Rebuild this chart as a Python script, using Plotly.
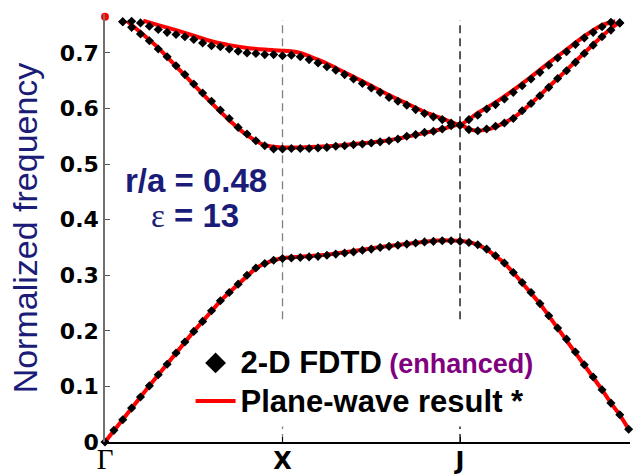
import plotly.graph_objects as go

# ---- data ----
k_tick_vals = [0, 20, 40]
k_tick_text = ['<span style="font-family:Liberation Serif;font-weight:normal;font-size:29px">Γ</span>',
               '<b>X</b>', '<b>J</b>']
k_end = 59

y_tick_vals = [0, 0.1, 0.2, 0.3, 0.4, 0.5, 0.6, 0.7]
y_tick_text = ["<b>0</b>", "<b>0.1</b>", "<b>0.2</b>", "<b>0.3</b>", "<b>0.4</b>",
               "<b>0.5</b>", "<b>0.6</b>", "<b>0.7</b>"]

# FDTD (diamonds), lowest band, k-index 0..59
k_band1 = list(range(0, 60))
fdtd_band1 = [0.000, 0.021, 0.040, 0.061, 0.081, 0.101, 0.121, 0.140, 0.160, 0.180,
              0.199, 0.217, 0.236, 0.254, 0.269, 0.284, 0.300, 0.313, 0.321, 0.327,
              0.330, 0.331, 0.332, 0.333, 0.334, 0.336, 0.338, 0.340, 0.342, 0.345,
              0.347, 0.350, 0.352, 0.354, 0.356, 0.358, 0.360, 0.361, 0.362, 0.362,
              0.361, 0.359, 0.355, 0.347, 0.335, 0.322, 0.305, 0.287, 0.269, 0.249,
              0.227, 0.205, 0.185, 0.162, 0.139, 0.117, 0.094, 0.070, 0.049, 0.023]

# FDTD upper bands, k-index 2..58
k_upper = list(range(2, 59))
fdtd_band2 = [0.756, 0.746, 0.734, 0.722, 0.707, 0.693, 0.677, 0.661, 0.644, 0.628,
              0.613, 0.597, 0.582, 0.566, 0.554, 0.542, 0.533, 0.527, 0.527,
              0.528, 0.528, 0.528, 0.529, 0.530, 0.532, 0.533, 0.535, 0.536, 0.538,
              0.540, 0.542, 0.545, 0.550, 0.553, 0.557, 0.559, 0.563, 0.569, 0.570,
              0.562, 0.560, 0.563, 0.568, 0.574, 0.582, 0.596, 0.609, 0.623, 0.638,
              0.654, 0.668, 0.683, 0.699, 0.714, 0.729, 0.741, 0.754]
fdtd_band3 = [0.756, 0.757, 0.754, 0.748, 0.742, 0.737, 0.733, 0.729, 0.724, 0.718,
              0.713, 0.711, 0.707, 0.703, 0.700, 0.699, 0.697, 0.697, 0.695,
              0.696, 0.693, 0.688, 0.682, 0.675, 0.669, 0.661, 0.653, 0.645, 0.637,
              0.629, 0.620, 0.613, 0.606, 0.598, 0.591, 0.585, 0.580, 0.574, 0.570,
              0.580, 0.588, 0.599, 0.607, 0.617, 0.629, 0.641, 0.653, 0.665, 0.678,
              0.691, 0.702, 0.715, 0.727, 0.737, 0.747, 0.755, 0.754]

# Plane-wave result (red lines)
pw_k1 = list(range(0, 60))
pw_band1 = [0.000, 0.021, 0.040, 0.061, 0.081, 0.101, 0.121, 0.140, 0.160, 0.180,
            0.199, 0.217, 0.236, 0.254, 0.269, 0.284, 0.300, 0.313, 0.321, 0.327,
            0.331, 0.332, 0.333, 0.334, 0.335, 0.337, 0.339, 0.341, 0.343, 0.346,
            0.348, 0.351, 0.353, 0.355, 0.357, 0.359, 0.361, 0.362, 0.363, 0.363,
            0.362, 0.360, 0.355, 0.347, 0.335, 0.322, 0.305, 0.287, 0.269, 0.249,
            0.227, 0.205, 0.185, 0.162, 0.139, 0.117, 0.094, 0.070, 0.049, 0.023]
pw_k2 = [2.5, 4, 6, 8, 10, 12, 14, 16, 18, 20, 22, 24, 26, 28, 30, 32, 34, 36, 38, 40,
         41, 42, 43, 44, 46, 48, 50, 52, 54, 56, 57, 58]
pw_band2 = [0.757, 0.737, 0.709, 0.676, 0.643, 0.610, 0.579, 0.552, 0.534, 0.530,
            0.530, 0.531, 0.533, 0.536, 0.539, 0.543, 0.549, 0.556, 0.563, 0.571,
            0.563, 0.560, 0.562, 0.567, 0.583, 0.609, 0.639, 0.669, 0.700, 0.730,
            0.744, 0.756]
pw_k3 = [4.3, 6, 8, 10, 12, 14, 16, 18, 19, 20, 21, 22, 23, 24, 25, 26, 28, 30, 32,
         34, 36, 38, 40, 42, 44, 46, 48, 50, 52, 54, 56, 57.5]
pw_band3 = [0.758, 0.750, 0.741, 0.731, 0.721, 0.714, 0.709, 0.706, 0.705, 0.704,
            0.703, 0.700, 0.694, 0.688, 0.681, 0.673, 0.657, 0.641, 0.624,
            0.609, 0.594, 0.582, 0.571,
            0.592, 0.611, 0.633, 0.657, 0.682, 0.706, 0.730, 0.750, 0.757]
pw_gamma_k = [0]
pw_gamma_top = [0.765]

# annotation / legend text
label_ra = "<b>r/a = 0.48</b>"
label_eps = '<span style="font-family:Liberation Serif">ε</span><b> = 13</b>'
name_fdtd = ('<span style="font-size:31px"><b>2-D FDTD</b></span> '
             '<span style="color:#800080"><b>(enhanced)</b></span>')
name_pw = '<span style="font-size:31px"><b>Plane-wave result *</b></span>'

NAVY = "#1b1b78"
RED = "#ff0000"

fig = go.Figure()

# legend entry for FDTD
fig.add_trace(go.Scatter(
    x=[None], y=[None], mode="markers",
    marker=dict(symbol="diamond", size=16, color="black"),
    name=name_fdtd, legendgroup="fdtd"))

# plane-wave red curves
fig.add_trace(go.Scatter(x=pw_k1, y=pw_band1, mode="lines",
                         line=dict(color=RED, width=4),
                         name=name_pw, legendgroup="pw"))
for kx, vals in [(pw_k2, pw_band2), (pw_k3, pw_band3)]:
    fig.add_trace(go.Scatter(x=kx, y=vals, mode="lines",
                             line=dict(color=RED, width=4, shape="spline", smoothing=0.6),
                             showlegend=False, legendgroup="pw"))
fig.add_trace(go.Scatter(x=pw_gamma_k, y=pw_gamma_top, mode="markers",
                         marker=dict(color=RED, size=8), cliponaxis=False,
                         showlegend=False, legendgroup="pw"))

# FDTD diamonds
for kx, vals in [(k_band1, fdtd_band1), (k_upper, fdtd_band2), (k_upper, fdtd_band3)]:
    fig.add_trace(go.Scatter(x=kx, y=vals, mode="markers",
                             marker=dict(symbol="diamond", size=7, color="black",
                                         line=dict(width=0)),
                             cliponaxis=False, showlegend=False, legendgroup="fdtd"))

# dashed symmetry-point lines (interrupted behind the legend)
for kv, col in zip(k_tick_vals[1:], ["#808080", "#000000"]):
    for y0, y1 in [(0.221, 0.759), (0.0, 0.028)]:
        fig.add_shape(type="line", xref="x", yref="y", x0=kv, x1=kv, y0=y0, y1=y1,
                      line=dict(color=col, width=1.3, dash="8px,5px"), layer="below")

fig.add_annotation(x=10.2, y=0.470, xref="x", yref="y", text=label_ra, showarrow=False,
                   font=dict(family="Liberation Sans", size=33, color=NAVY),
                   xanchor="center", yanchor="middle")
fig.add_annotation(x=10.1, y=0.408, xref="x", yref="y", text=label_eps, showarrow=False,
                   font=dict(family="Liberation Sans", size=33, color=NAVY),
                   xanchor="center", yanchor="middle")

fig.update_layout(
    width=637, height=476, autosize=False,
    margin=dict(l=105, r=7, t=14, b=34, autoexpand=False),
    paper_bgcolor="white", plot_bgcolor="white",
    showlegend=True,
    legend=dict(x=0.163, y=0.241, xanchor="left", yanchor="top",
                bgcolor="rgba(0,0,0,0)", borderwidth=0, itemwidth=40,
                font=dict(family="Liberation Sans", size=27, color="black"),
                tracegroupgap=0),
    xaxis=dict(range=[0, 59.15], tickvals=k_tick_vals, ticktext=k_tick_text,
               automargin=False, ticklabelstandoff=-4,
               showgrid=False, zeroline=False, showline=True, linecolor="black",
               linewidth=1.5, ticks="inside", ticklen=5, tickcolor="black",
               tickfont=dict(family="DejaVu Sans", size=24, color="black")),
    yaxis=dict(range=[0, 0.77], tickvals=y_tick_vals, ticktext=y_tick_text,
               automargin=False,
               showgrid=False, zeroline=False, showline=True, linecolor="#707070",
               linewidth=1.5, ticks="inside", ticklen=5, tickcolor="#555555",
               tickfont=dict(family="DejaVu Sans", size=22, color="black"),
               title=dict(text="Normalized frequency", standoff=12,
                          font=dict(family="Liberation Sans", size=34, color=NAVY))),
)

fig.write_html("out.html", config={"displayModeBar": False},
               post_script="document.body.style.margin='0px';document.body.style.padding='0px';")
